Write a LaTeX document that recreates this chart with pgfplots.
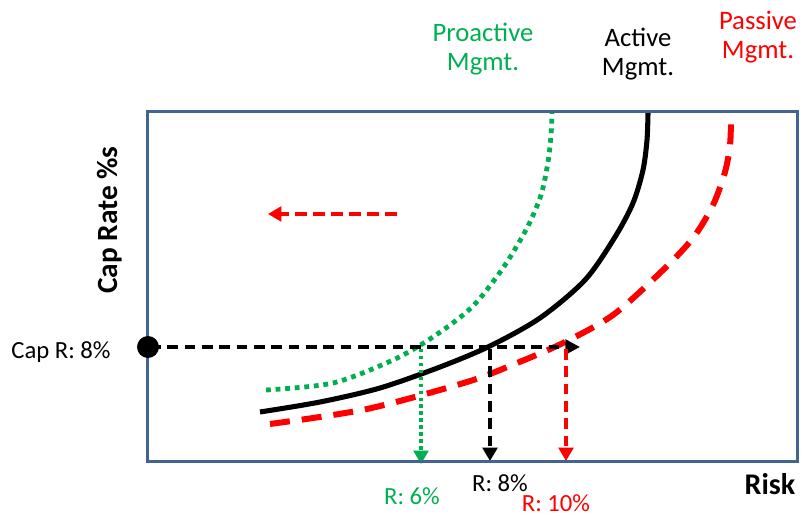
\documentclass[border=0pt]{standalone}
\usepackage{pgfplots}
\pgfplotsset{compat=1.18}
\usepackage{fontspec}
\setmainfont{Carlito}
\usetikzlibrary{arrows.meta}
\definecolor{frameblue}{RGB}{65,100,145}
\definecolor{pgreen}{RGB}{0,176,80}
\definecolor{pred}{RGB}{255,0,0}
\begin{document}
\begin{tikzpicture}
\useasboundingbox (-111pt,-41.25pt) rectangle (491.25pt,345.75pt);
\begin{axis}[
  scale only axis,
  width=486.75pt, height=261.75pt,
  xmin=148, xmax=797, ymin=112, ymax=461,
  y dir=reverse,
  xtick=\empty, ytick=\empty,
  axis line style={draw=frameblue, line width=2.25pt},
  axis on top,
  clip=false,
]
% Proactive (green dotted)
\addplot[pgreen, line width=3.6pt, dash pattern=on 3.6pt off 3.6pt, smooth] coordinates {
(266,390) (333,383) (393,360) (433,337) (472,307) (503,268) (527,228) (541,195) (548,162) (551,135) (552,113)};
% Active (black solid)
\addplot[black, line width=3.8pt, smooth] coordinates {
(260,412) (320,402) (380,388) (440,367) (490,346) (540,318) (585,280) (615,237) (633,203) (643,170) (647,140) (648,113)};
% Passive (red dashed)
\addplot[pred, line width=4.5pt, dash pattern=on 15pt off 9pt, smooth] coordinates {
(270,424) (367,409) (467,382) (517,363) (563,343) (613,315) (662,271) (693,238) (713,205) (725,172) (730,145) (731,120)};
% horizontal dashed arrow
\addplot[black, line width=2.6pt, dash pattern=on 8pt off 5pt, -{Triangle[length=11pt,width=11pt]}] coordinates {(150,347) (580,347)};
% vertical arrows
\addplot[pgreen, line width=2.6pt, dash pattern=on 2.6pt off 2.6pt, -{Triangle[length=10pt,width=11pt]}] coordinates {(421,349) (421,464)};
\addplot[black, line width=2.6pt, dash pattern=on 8pt off 5pt, -{Triangle[length=10pt,width=11pt]}] coordinates {(490,349) (490,461)};
\addplot[pred, line width=2.6pt, dash pattern=on 8pt off 5pt, -{Triangle[length=10pt,width=11pt]}] coordinates {(566,349) (566,461)};
% red left arrow
\addplot[pred, line width=3pt, dash pattern=on 9pt off 4.5pt, -{Triangle[length=10pt,width=11pt]}] coordinates {(397,214) (268,214)};
% black dot
\addplot[only marks, mark=*, mark size=8pt, black] coordinates {(148,347)};
% labels
\node[font=\fontsize{20}{22}\selectfont, text=pgreen, align=center] at (axis cs:483,49) {Proactive\\Mgmt.};
\node[font=\fontsize{20}{22}\selectfont, text=black, align=center] at (axis cs:638,54) {Active\\Mgmt.};
\node[font=\fontsize{20}{22}\selectfont, text=pred, align=center] at (axis cs:758,37) {Passive\\Mgmt.};
\node[font=\fontsize{18.5}{20}\selectfont] at (axis cs:61,352) {Cap R: 8\%};
\node[font=\bfseries\fontsize{22}{24}\selectfont, rotate=90] at (axis cs:110,220) {Cap Rate \%s};
\node[font=\bfseries\fontsize{22.5}{24}\selectfont] at (axis cs:770,484) {Risk};
\node[font=\fontsize{18.5}{20}\selectfont, text=pgreen] at (axis cs:412,496) {R: 6\%};
\node[font=\fontsize{18.5}{20}\selectfont, text=black] at (axis cs:500,483) {R: 8\%};
\node[font=\fontsize{18.5}{20}\selectfont, text=pred] at (axis cs:556,503) {R: 10\%};
\end{axis}
\end{tikzpicture}
\end{document}
